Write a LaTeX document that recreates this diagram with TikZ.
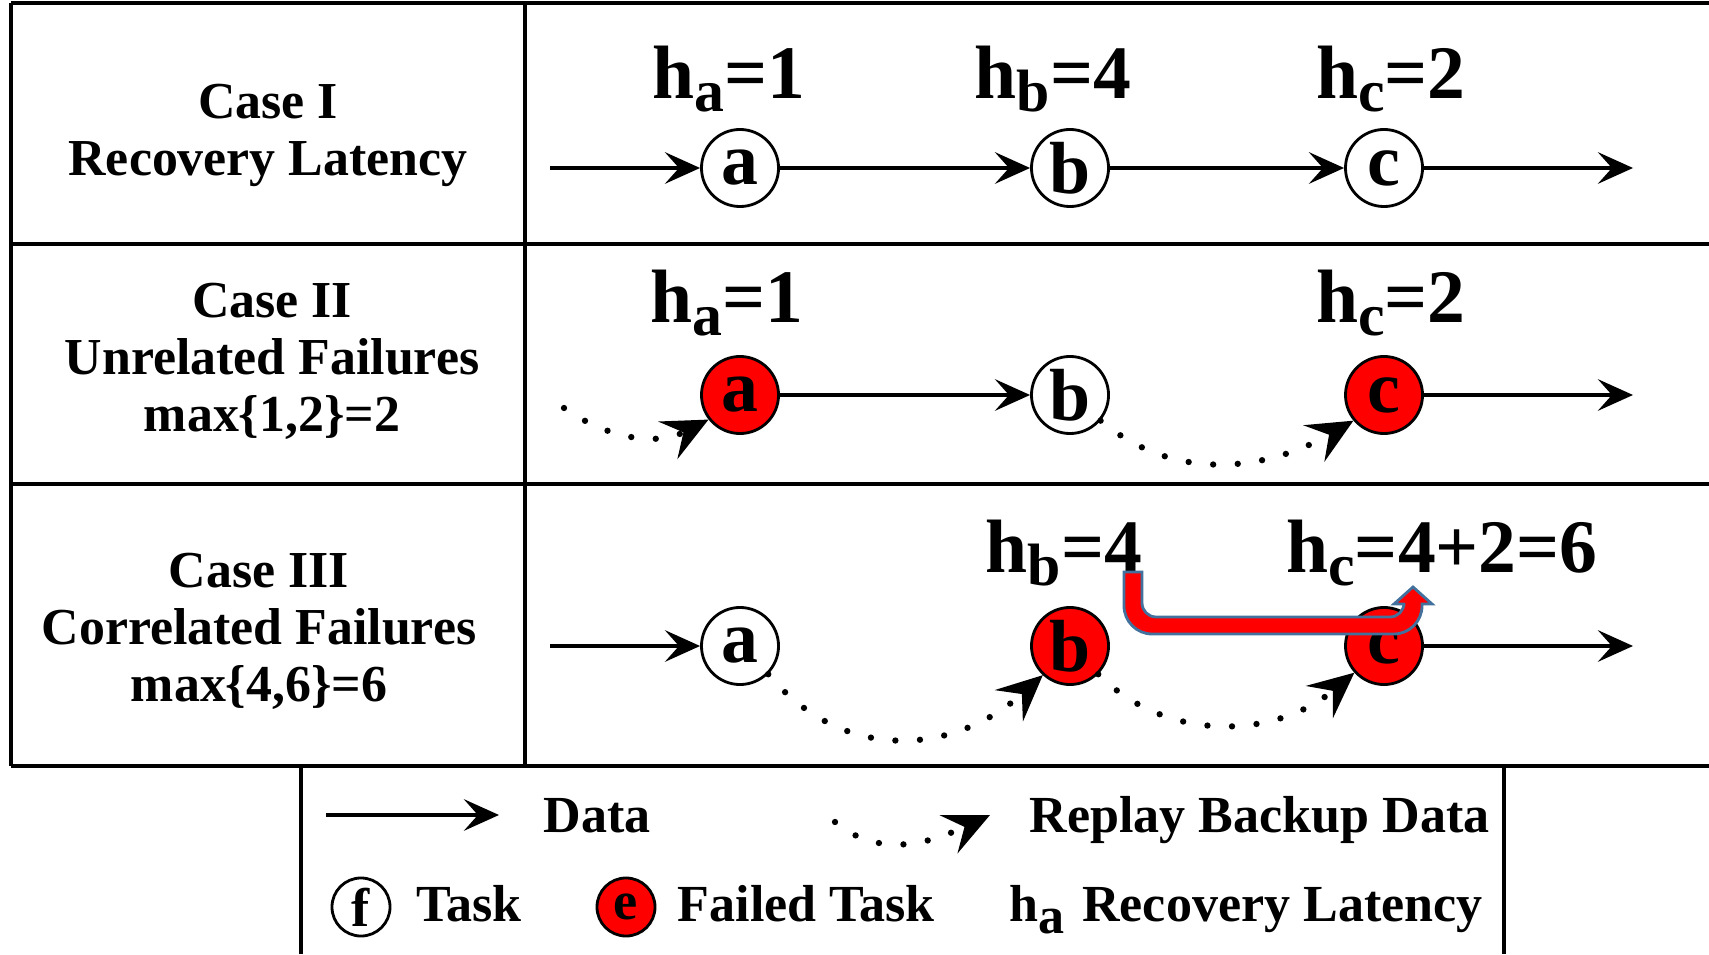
\documentclass[tikz,border=0pt]{standalone}
\usepackage{fontspec}
\setmainfont{Liberation Serif}
\usetikzlibrary{arrows.meta}
\definecolor{failred}{RGB}{255,0,0}
\definecolor{edgeblue}{RGB}{65,113,156}
\newcommand{\hsub}[3][17]{h\raisebox{-3.5pt}{\fontsize{#1}{#1}\selectfont #2}#3}
\begin{document}
\begin{tikzpicture}[x=.01cm,y=.01cm,font=\bfseries,
 task/.style={circle,draw,line width=.8pt,minimum size=.77cm,inner sep=0pt,font=\fontsize{21}{21}\selectfont\bfseries},
 failed/.style={task,fill=failred},
 small/.style={minimum size=.58cm,font=\fontsize{15.5}{15.5}\selectfont\bfseries},
 data/.style={line width=.9pt,-{Stealth[length=10pt,width=9pt,inset=4pt]}},
 replay/.style={line width=1.8pt,line cap=round,dash pattern=on 0pt off 7pt,-{Stealth[length=13pt,width=12pt,inset=5pt,line width=.6pt]}},
 hlab/.style={anchor=base,inner sep=0pt,font=\fontsize{21.5}{21.5}\selectfont\bfseries},
 case/.style={align=center,font=\fontsize{14.75}{16.2}\selectfont\bfseries},
 legend/.style={anchor=base west,inner sep=0pt,font=\fontsize{14.8}{14.8}\selectfont\bfseries}]
\useasboundingbox (0,0) rectangle (1709,954);
% table and legend frame
\foreach \y in {951,710,470,188}{\draw[line width=1pt] (11,\y)--(1709,\y);}
\foreach \x in {11,525}{\draw[line width=1pt] (\x,951)--(\x,188);}
\draw[line width=1pt] (301,188)--(301,0) (1504,188)--(1504,0);
\node[case] (case1) at (268,819){Case I\\Recovery Latency};
\node[case] (case2) at (272,593){Case II\\Unrelated Failures\\max\{1,2\}=2};
\node[case] (case3) at (259,323){Case III\\Correlated Failures\\max\{4,6\}=6};
% tasks
\node[task] (a1) at (740,786){a};\node[task] (b1) at (1070,786){b};\node[task] (c1) at (1384,786){c};
\node[failed] (a2) at (740,559){a};\node[task] (b2) at (1070,559){b};\node[failed] (c2) at (1384,559){c};
\node[task] (a3) at (740,308){a};\node[failed] (b3) at (1070,308){b};\node[failed] (c3) at (1384,308){c};
\coordinate (in1) at (550,786);\coordinate (out1) at (1633,786);
\coordinate (in2) at (564,546);\coordinate (out2) at (1633,559);
\coordinate (in3) at (550,308);\coordinate (out3) at (1633,308);
% latencies
\node[hlab] (ha1) at (729,855){\hsub{a}{=1}};\node[hlab] (hb1) at (1053,855){\hsub{b}{=4}};\node[hlab] (hc1) at (1391,855){\hsub{c}{=2}};
\node[hlab] (ha2) at (727,631){\hsub{a}{=1}};\node[hlab] (hc2) at (1391,631){\hsub{c}{=2}};
\node[hlab] (hb3) at (1064,381){\hsub{b}{=4}};\node[hlab] (hc3) at (1442,381){\hsub{c}{=4+2=6}};
% data and replay
\draw[data] (in1)--(a1);\draw[data] (a1)--(b1);\draw[data] (b1)--(c1);\draw[data] (c1)--(out1);
\draw[replay] (in2) to[out=-35,in=207] (a2.218);\draw[data] (a2)--(b2);
\draw[replay] (b2.-40) to[out=-40,in=210] (c2.220);\draw[data] (c2)--(out2);
\draw[data] (in3)--(a3);\draw[data] (c3)--(out3);
\draw[replay] (a3.-45) to[out=-50,in=222,looseness=1.1] (b3.227);
\draw[replay] (b3.-45) to[out=-45,in=220] (c3.222);
% correlated latency arrow
\draw[edgeblue,fill=failred,line width=.8pt] (1124,382)[rounded corners=8pt]--(1124,320)--(1422,320)[sharp corners]--(1422,350)--(1432,350)--(1413,367)--(1394,350)--(1404,350)[rounded corners=4pt]--(1404,337)--(1142,337)[sharp corners]--(1142,382)--cycle;
% legend
\coordinate (ds) at (326,139);\coordinate (de) at (499,139);\draw[data] (ds)--(de);
\node[legend] (dl) at (543,122){Data};
\coordinate (rs) at (835,132);\coordinate (re) at (990,139);\draw[replay] (rs) to[out=-40,in=205] (re);
\node[legend] (rl) at (1029,122){Replay Backup Data};
\node[task,small] (ft) at (361,47){f};\node[legend] (tl) at (416,33){Task};
\node[failed,small] (et) at (626,47){e};\node[legend] (fl) at (677,33){Failed Task};
\node[legend] (hl) at (1009,33){\hsub[14.8]{a}{\hspace{5pt}Recovery Latency}};
\end{tikzpicture}
\end{document}
